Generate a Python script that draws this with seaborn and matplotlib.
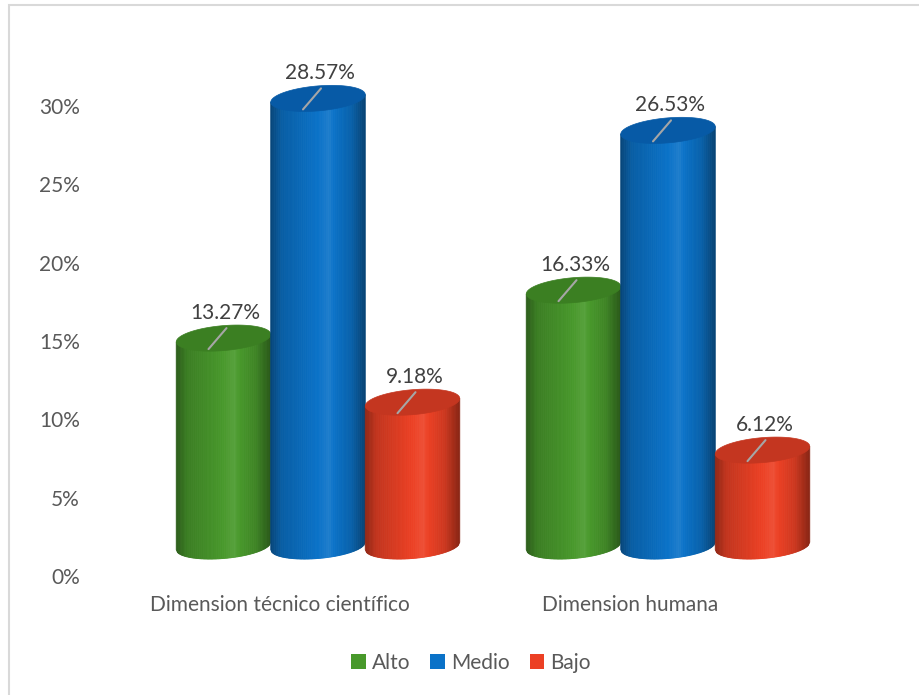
import numpy as np
import pandas as pd
import seaborn as sns
import matplotlib.pyplot as plt
from matplotlib.colors import to_rgb
from matplotlib.patches import Polygon, Patch, Rectangle
from matplotlib.transforms import ScaledTranslation, IdentityTransform

# datos
categorias = ["Dimension técnico científico", "Dimension humana"]
niveles = ["Alto", "Medio", "Bajo"]
alto = [13.27, 16.33]
medio = [28.57, 26.53]
bajo = [9.18, 6.12]
yticks = [0, 5, 10, 15, 20, 25, 30]

colores = ["#48992b", "#0a72c8", "#ec4024"]
colores_tapa = ["#3b7f22", "#075aa6", "#c43620"]

df = pd.DataFrame({
    "categoria": categorias * 3,
    "nivel": [n for n in niveles for _ in categorias],
    "valor": alto + medio + bajo,
})

sns.set_style("white")
plt.rcParams["font.family"] = ["Lato", "DejaVu Sans"]

fig = plt.figure(figsize=(9.2, 6.95), dpi=100)
ax = fig.add_axes([105 / 920, 1 - 576 / 695, 700 / 920, 470 / 695])

sns.barplot(data=df, x="categoria", y="valor", hue="nivel", hue_order=niveles,
            palette=colores, width=0.81, saturation=1, legend=False, ax=ax)

ax.set_xlim(-0.5, 1.5)
ax.set_ylim(0, 30)
ax.set_yticks(yticks)
ax.set_yticklabels([f"{v}%" for v in yticks], color="#595959", fontsize=15)
ax.tick_params(axis="y", length=0, pad=18)
ax.tick_params(axis="x", length=0, pad=14, labelsize=15, labelcolor="#595959")
ax.set_xlabel("")
ax.set_ylabel("")
sns.despine(ax=ax, left=True, bottom=True)

# efecto cilindro 3D (perspectiva desplazada)
desplaz = ax.transData + ScaledTranslation(0.38, 0.30, fig.dpi_scale_trans)
b = 12.5      # semieje menor de la elipse (px)
k = 0.08      # inclinacion de la elipse
perfil_u = [0, 0.12, 0.5, 0.62, 0.85, 1]
perfil_f = [0.60, 0.82, 1.0, 1.04, 0.86, 0.58]


def sombra(color, f):
    c = np.array(to_rgb(color))
    if f <= 1:
        return tuple(c * f)
    return tuple(c + (1 - c) * (f - 1) * 2)


barras = []
for idx, cont in enumerate(ax.containers):
    for p in cont.patches:
        barras.append((p, idx))
barras.sort(key=lambda e: e[0].get_x())

for p, idx in barras:
    p.set_visible(False)
    x0, y0 = desplaz.transform((p.get_x(), 0))
    x1, y1 = desplaz.transform((p.get_x() + p.get_width(), p.get_height()))
    cx = (x0 + x1) / 2
    a = (x1 - x0) / 2

    def fondo(x):
        c = np.clip((x - cx) / a, -1, 1)
        return y0 - b * np.sqrt(1 - c ** 2) + k * (x - cx)

    def arriba(x):
        return y1 + k * (x - cx)

    # cuerpo en franjas verticales con degradado
    n = 70
    xs = np.linspace(x0, x1, n + 1)
    for i in range(n):
        xa, xb = xs[i], xs[i + 1]
        u = ((xa + xb) / 2 - x0) / (x1 - x0)
        col = sombra(colores[idx], np.interp(u, perfil_u, perfil_f))
        poly = Polygon([(xa, fondo(xa)), (xb, fondo(xb)), (xb, arriba(xb)), (xa, arriba(xa))],
                       closed=True, facecolor=col, edgecolor=col, lw=0.6,
                       transform=IdentityTransform(), clip_on=False)
        fig.add_artist(poly)

    # tapa superior
    t = np.linspace(0, 2 * np.pi, 120)
    ex = cx + a * np.cos(t)
    ey = y1 + b * np.sin(t) + k * a * np.cos(t)
    tapa = Polygon(np.column_stack([ex, ey]), closed=True, facecolor=colores_tapa[idx],
                   edgecolor=colores_tapa[idx], lw=0.5, transform=IdentityTransform(),
                   clip_on=False)
    fig.add_artist(tapa)

    # etiqueta con linea guia
    fig.add_artist(plt.Line2D([cx + 3, cx - 15], [y1 + 10, y1 - 11], color="#a6a6a6",
                              lw=1.5, transform=IdentityTransform()))
    fig.text((cx + 2) / 920, (y1 + 15) / 695, f"{p.get_height():.2f}%", ha="center",
             va="bottom", fontsize=15, color="#404040")

# leyenda
handles = [Patch(facecolor=c, edgecolor="none") for c in colores]
fig.legend(handles, niveles, loc="center", bbox_to_anchor=(471 / 920, 1 - 663 / 695), ncol=3,
           frameon=False, fontsize=15, labelcolor="#595959", handlelength=0.7,
           handleheight=0.7, handletextpad=0.3, columnspacing=0.95)

# borde del grafico
fig.add_artist(Rectangle((9 / 920, -0.05), 1.1, 1 - 5 / 695 + 0.05, transform=fig.transFigure,
                         fill=False, edgecolor="#d9d9d9", lw=1.5))

fig.savefig("out.png", dpi=100)
